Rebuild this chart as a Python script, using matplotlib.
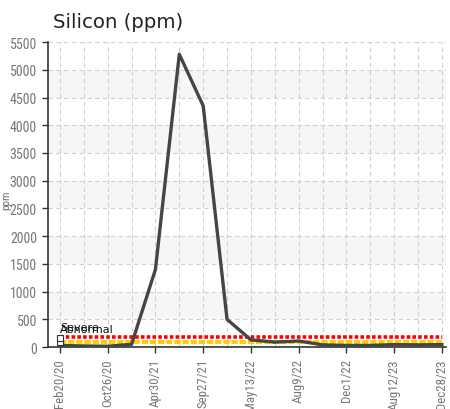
import matplotlib
matplotlib.use("Agg")
import matplotlib.pyplot as plt
from matplotlib import font_manager
import numpy as np

dates = ["Feb20/20", "", "Oct26/20", "", "Apr30/21", "", "Sep27/21", "",
         "May13/22", "", "Aug9/22", "", "Dec1/22", "", "Aug12/23", "", "Dec28/23"]
silicon = [30, 20, 15, 50, 1400, 5280, 4350, 500, 130, 90, 110, 40, 30, 30, 45, 40, 45]
severe_level = 180
abnormal_level = 100
yticks = list(range(0, 5501, 500))

names = {f.name for f in font_manager.fontManager.ttflist}
narrow = None
for cand in ['Liberation Sans Narrow', 'DejaVu Sans Condensed', 'Roboto Condensed', 'Open Sans Condensed']:
    if cand in names:
        narrow = cand
        break
if narrow is None:
    narrow = 'DejaVu Sans'

fig = plt.figure(figsize=(4.5, 4.1), dpi=100)
ax = fig.add_axes([0.1067, 0.151, 0.8843, 0.744])

x = np.arange(len(silicon))
ax.set_xlim(-0.5, len(silicon) - 1 + 0.17)
ax.set_ylim(0, 5500)

for lo in range(500, 5500, 1000):
    ax.axhspan(lo, lo + 500, color='#f6f6f6', zorder=0, lw=0)

for yv in yticks:
    ax.axhline(yv, color='#d0d0d0', lw=0.8, ls=(0, (4, 3)), zorder=1)
for xv in x:
    ax.axvline(xv, color='#d0d0d0', lw=0.8, ls=(0, (4, 3)), zorder=1)

ax.plot([x[0], x[-1]], [abnormal_level] * 2, color='#ffcc00', lw=2.8,
        ls=(0, (1.6, 0.5)), zorder=3)
ax.plot([x[0], x[-1]], [severe_level] * 2, color='#ff0000', lw=2.6,
        ls=(0, (1.0, 0.6)), zorder=3)

ax.plot(x, silicon, color='#454545', lw=2.4, zorder=4)

ax.plot([0], [abnormal_level], marker='s', ms=4, mfc='white', mec='#333333', mew=0.8, zorder=5)
ax.plot([0], [severe_level - 10], marker='s', ms=4, mfc='white', mec='#333333', mew=0.8, zorder=5)
ax.text(0, severe_level + 90, "Severe", fontsize=8, color='#111111', va='bottom', ha='left',
        family=['DejaVu Sans'], zorder=6)
ax.text(0, abnormal_level + 130, "Abnormal", fontsize=8, color='#111111', va='bottom', ha='left',
        family=['DejaVu Sans'], zorder=6)

ax.set_yticks(yticks)
ax.set_yticklabels([str(v) for v in yticks], fontsize=10, color='#777777', family=[narrow, 'DejaVu Sans'])
labeled = [i for i, d in enumerate(dates) if d]
ax.set_xticks(labeled)
ax.set_xticklabels([dates[i] for i in labeled], rotation=90, fontsize=9.3, color='#777777',
                   family=[narrow, 'DejaVu Sans'])
ax.tick_params(axis='both', length=4, width=1, color='#333333', pad=4)

for s in ['top', 'right']:
    ax.spines[s].set_visible(False)
for s in ['left', 'bottom']:
    ax.spines[s].set_color('#333333')
    ax.spines[s].set_linewidth(1.2)

fig.text(6 / 450, 1 - 200 / 410, "ppm", fontsize=8, color='#777777', rotation=90,
         ha='center', va='center', family=[narrow, 'DejaVu Sans'])
fig.text(53 / 450, 1 - 28 / 410, "Silicon (ppm)", fontsize=14.2, color='#222222',
         family=['DejaVu Sans'], va='baseline')

fig.savefig("out.png", dpi=100)
